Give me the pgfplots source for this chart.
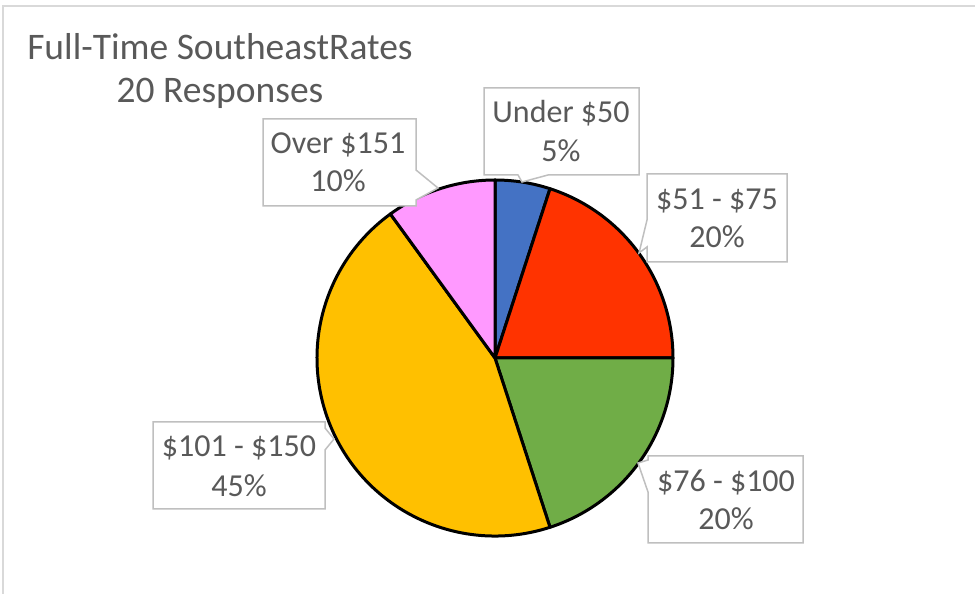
\documentclass[border=0pt]{standalone}
\usepackage{pgfplots}
\usepackage{pgfplotstable}
\pgfplotsset{compat=1.18}
\usepackage{fontspec}
\setmainfont{Carlito}
\definecolor{cblue}{HTML}{4472C4}
\definecolor{cred}{HTML}{FF3300}
\definecolor{cgreen}{HTML}{70AD47}
\definecolor{cyellow}{HTML}{FFC000}
\definecolor{cpink}{HTML}{FF99FF}
\definecolor{txtgray}{HTML}{595959}
\definecolor{boxgray}{HTML}{BFBFBF}
\definecolor{framegray}{HTML}{D9D9D9}

\pgfplotstableread{
idx value color
0 5 cblue
1 20 cred
2 20 cgreen
3 45 cyellow
4 10 cpink
}\piedata

\begin{document}
\begin{tikzpicture}
\useasboundingbox (0,0) rectangle (975pt,594pt);
\begin{axis}[at={(0,0)}, anchor=south west, x=1pt, y=1pt,
  xmin=0, xmax=975, ymin=0, ymax=594, hide axis, clip=false]
  % frame
  \draw[framegray, line width=1.6pt] (axis cs:3,0) -- (axis cs:3,588) -- (axis cs:975,588);
  % pie slices
  \def\cum{0}
  \pgfplotsforeachungrouped \i in {0,...,4}{%
    \pgfplotstablegetelem{\i}{value}\of\piedata
    \let\v\pgfplotsretval
    \pgfplotstablegetelem{\i}{color}\of\piedata
    \let\c\pgfplotsretval
    \pgfmathsetmacro\a{90-3.6*\cum}%
    \pgfmathsetmacro\b{90-3.6*(\cum+\v)}%
    \edef\temp{\noexpand\filldraw[fill=\c, draw=black, line width=3pt, line join=round]
      (axis cs:495,236) -- ++(\a:178pt) arc[start angle=\a, end angle=\b, radius=178pt] -- cycle;}%
    \temp
    \pgfmathsetmacro\cum{\cum+\v}%
  }
  % title
  \node[anchor=base, txtgray, font=\fontsize{37.5}{45}\selectfont] at (axis cs:220,534) {Full-Time SoutheastRates};
  \node[anchor=base, txtgray, font=\fontsize{37.5}{45}\selectfont] at (axis cs:220,491) {20 Responses};
  % callout boxes
  \filldraw[fill=white, draw=boxgray, line width=1.5pt]
    (axis cs:484,506) -- (axis cs:639,506) -- (axis cs:639,419) -- (axis cs:548,419) -- (axis cs:522,412) -- (axis cs:518,419) -- (axis cs:484,419) -- cycle;
  \filldraw[fill=white, draw=boxgray, line width=1.5pt]
    (axis cs:647,420) -- (axis cs:787,420) -- (axis cs:787,332) -- (axis cs:647,332) -- (axis cs:647,347) -- (axis cs:639,341) -- (axis cs:647,374) -- cycle;
  \filldraw[fill=white, draw=boxgray, line width=1.5pt]
    (axis cs:648,138) -- (axis cs:803,138) -- (axis cs:803,51) -- (axis cs:648,51) -- (axis cs:648,102) -- (axis cs:638,131) -- (axis cs:648,134) -- cycle;
  \filldraw[fill=white, draw=boxgray, line width=1.5pt]
    (axis cs:153,172) -- (axis cs:325,172) -- (axis cs:325,166) -- (axis cs:334,155) -- (axis cs:325,144) -- (axis cs:325,85) -- (axis cs:153,85) -- cycle;
  \filldraw[fill=white, draw=boxgray, line width=1.5pt]
    (axis cs:263,475) -- (axis cs:416,475) -- (axis cs:416,424) -- (axis cs:438,406) -- (axis cs:416,394) -- (axis cs:416,388) -- (axis cs:263,388) -- cycle;
  % labels
  \tikzset{lbl/.style={anchor=base, txtgray, font=\fontsize{32}{38}\selectfont}}
  \node[lbl] at (axis cs:561,471) {Under \$50};
  \node[lbl] at (axis cs:561,432) {5\%};
  \node[lbl] at (axis cs:717,384) {\$51 - \$75};
  \node[lbl] at (axis cs:717,346) {20\%};
  \node[lbl] at (axis cs:726,102) {\$76 - \$100};
  \node[lbl] at (axis cs:726,64) {20\%};
  \node[lbl] at (axis cs:239,137) {\$101 - \$150};
  \node[lbl] at (axis cs:239,97) {45\%};
  \node[lbl] at (axis cs:338,440) {Over \$151};
  \node[lbl] at (axis cs:338,402) {10\%};
\end{axis}
\end{tikzpicture}
\end{document}
